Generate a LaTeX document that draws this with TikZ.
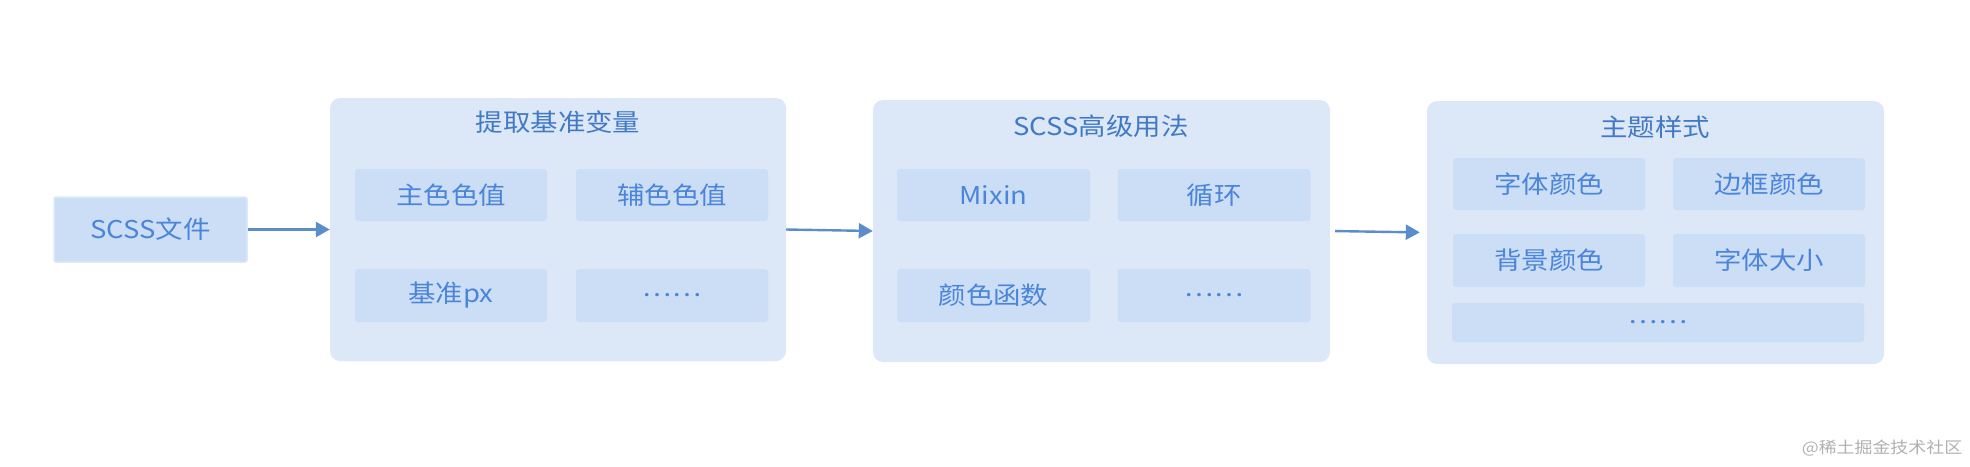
\documentclass[tikz,border=0pt]{standalone}
\usepackage{fontspec}
\setmainfont{Noto Sans CJK SC}[FakeStretch=1.12]
\usetikzlibrary{arrows.meta}
\definecolor{groupbg}{HTML}{DCE8F8}
\definecolor{innerbg}{HTML}{CCDEF6}
\definecolor{titlefg}{HTML}{4279C5}
\definecolor{innerfg}{HTML}{4A85DA}
\definecolor{arrowc}{HTML}{5B8DCB}
\definecolor{markc}{HTML}{B0B0B0}
\tikzset{
  groupbox/.style={fill=groupbg, draw=none, rounded corners=10pt, inner sep=0pt},
  innerbox/.style={fill=innerbg, draw=none, rounded corners=3pt, inner sep=0pt, text=innerfg, font=\fontsize{24.5}{27}\selectfont},
  srcbox/.style={fill=innerbg, draw=groupbg, line width=1.5pt, rounded corners=2pt, inner sep=0pt, text=innerfg, font=\fontsize{24.5}{27}\selectfont},
  titletext/.style={text=titlefg, inner sep=0pt, font=\fontsize{24.5}{27}\selectfont},
  flow/.style={draw=arrowc, line width=2.4pt, -{Triangle[length=14pt,width=15pt]}},
}
\begin{document}
\begin{tikzpicture}[x=1pt,y=-1pt]
\useasboundingbox (0,0) rectangle (1970,466);
% source
\node[srcbox, minimum width=193pt, minimum height=65pt] (src) at (150.5,229.5) {SCSS文件};
% group 1
\node[groupbox, minimum width=456pt, minimum height=263pt] (g1) at (558,229.5) {};
\node[titletext] (t1) at (558,122) {提取基准变量};
\node[innerbox, minimum width=192pt, minimum height=52pt] (g1a) at (451,195) {主色色值};
\node[innerbox, minimum width=192pt, minimum height=52pt] (g1b) at (672,195) {辅色色值};
\node[innerbox, minimum width=192pt, minimum height=53pt] (g1c) at (451,295.5) {基准px};
\node[innerbox, minimum width=192pt, minimum height=53pt] (g1d) at (672,295.5) {……};
% group 2
\node[groupbox, minimum width=457pt, minimum height=262pt] (g2) at (1101.5,231) {};
\node[titletext] (t2) at (1101,126) {SCSS高级用法};
\node[innerbox, minimum width=193pt, minimum height=52pt] (g2a) at (993.5,195) {Mixin};
\node[innerbox, minimum width=193pt, minimum height=52pt] (g2b) at (1214,195) {循环};
\node[innerbox, minimum width=193pt, minimum height=53pt] (g2c) at (993.5,295.5) {颜色函数};
\node[innerbox, minimum width=193pt, minimum height=53pt] (g2d) at (1214,295.5) {……};
% group 3
\node[groupbox, minimum width=457pt, minimum height=263pt] (g3) at (1655.5,232.5) {};
\node[titletext] (t3) at (1655,127) {主题样式};
\node[innerbox, minimum width=192pt, minimum height=52pt] (g3a) at (1549,184) {字体颜色};
\node[innerbox, minimum width=192pt, minimum height=52pt] (g3b) at (1769,184) {边框颜色};
\node[innerbox, minimum width=192pt, minimum height=53pt] (g3c) at (1549,260.5) {背景颜色};
\node[innerbox, minimum width=192pt, minimum height=53pt] (g3d) at (1769,260.5) {字体大小};
\node[innerbox, minimum width=412pt, minimum height=39pt] (g3e) at (1658,322.5) {……};
% arrows
\draw[flow] (src.east) -- (g1.west |- src.east);
\draw[flow] (g1.east) -- (g2.west);
\draw[flow, shorten <=5pt, shorten >=7pt] (g2.east) -- (g3.west);
% watermark
\node[text=markc, inner sep=0pt, font=\fontsize{16}{18}\selectfont] (wm) at (1882,448) {@稀土掘金技术社区};
\end{tikzpicture}
\end{document}
